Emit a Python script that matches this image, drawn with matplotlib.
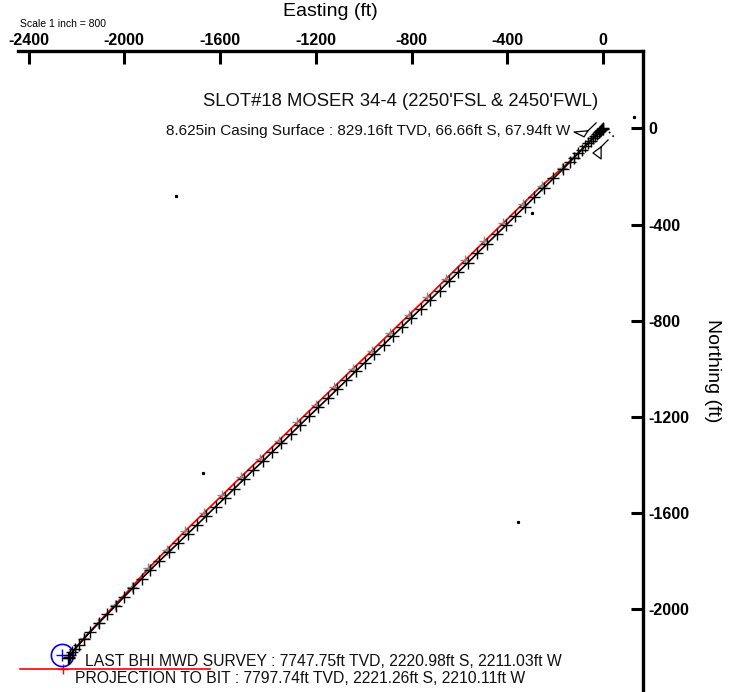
import matplotlib.pyplot as plt

plt.rcParams["font.family"] = ["Liberation Sans", "DejaVu Sans"]

# survey stations (easting, northing in ft)
survey_e = [0, -1, -3, -7, -12, -18, -25, -33, -42, -52, -63, -75, -89, -104,
            -121, -140, -167, -207, -247, -287, -326, -366, -406, -445, -485,
            -525, -564, -604, -644, -683, -723, -762, -801, -840, -878, -917,
            -956, -995, -1034, -1072, -1111, -1150, -1189, -1228, -1266, -1305,
            -1344, -1383, -1422, -1462, -1501, -1540, -1579, -1618, -1657,
            -1696, -1735, -1774, -1814, -1853, -1892, -1928, -1964, -2000,
            -2036, -2071, -2107, -2143, -2168, -2190, -2206, -2217, -2225,
            -2230, -2233, -2235]
survey_n = [0, -1, -3, -6, -11, -17, -24, -32, -41, -51, -62, -74, -88, -104,
            -121, -141, -169, -208, -247, -286, -325, -364, -403, -441, -480,
            -519, -558, -597, -636, -675, -714, -751, -788, -826, -862, -900,
            -937, -974, -1011, -1048, -1085, -1123, -1160, -1197, -1234, -1272,
            -1310, -1347, -1385, -1422, -1460, -1498, -1536, -1573, -1611,
            -1649, -1686, -1724, -1762, -1799, -1837, -1874, -1911, -1948,
            -1985, -2021, -2058, -2095, -2122, -2147, -2165, -2180, -2191,
            -2197, -2201, -2203]

# well plan
plan_e = [0, -3, -12, -25, -42, -63, -89, -121, -170, -256, -336, -416, -496,
          -575, -655, -734, -812, -889, -967, -1045, -1122, -1200, -1277,
          -1355, -1433, -1512, -1590, -1668, -1746, -1823, -1899, -1968,
          -2039, -2109, -2169, -2206, -2230]
plan_n = [0, -3, -11, -24, -41, -62, -88, -120, -165, -238, -315, -393, -470,
          -547, -625, -703, -777, -851, -926, -1000, -1074, -1149, -1223,
          -1299, -1374, -1449, -1525, -1600, -1675, -1753, -1830, -1907,
          -1982, -2056, -2121, -2165, -2197]

# casing shoe symbols
shoe1_e = [-29, -63, -121, -79, -63]
shoe1_n = [23, -10, -15, -35, -10]
shoe2_e = [21, -8, -8, -42, -8]
shoe2_n = [-48, -77, -127, -102, -77]
lead_e = [-4, 50]
lead_n = [15, -40]

target_e, target_n = -2262, -2192
bit_e, bit_n = -2256, -2248
hline_e = [-2435, -1642]
hline_n = [-2248, -2248]

dots_e = [129, -1784, -1671, -355, -297]
dots_n = [48, -281, -1434, -1638, -352]

xticks = [-2400, -2000, -1600, -1200, -800, -400, 0]
yticks = [0, -400, -800, -1200, -1600, -2000]

fig = plt.figure(figsize=(7.36, 6.92), dpi=100)
ax = fig.add_axes([18 / 736, 1 - 690 / 692, 625 / 736, 639 / 692])
ax.set_xlim(-2444, 167)
ax.set_ylim(-2336, 322)

ax.plot(plan_e, plan_n, color="red", linewidth=1.3, marker="+",
        markersize=7.5, markeredgecolor="#8a8a8a", markeredgewidth=1.0,
        zorder=2)
ax.plot(survey_e, survey_n, color="black", linewidth=1.2, marker="+",
        markersize=8, markeredgewidth=1.0, zorder=3)

ax.plot(shoe1_e, shoe1_n, color="black", linewidth=0.9)
ax.plot(shoe2_e, shoe2_n, color="black", linewidth=0.9)
ax.plot(lead_e, lead_n, color="black", linestyle=(0, (1, 2)), linewidth=1.2)

ax.plot(hline_e, hline_n, color="red", linewidth=1.2)
ax.plot([bit_e], [bit_n], marker="+", color="red", markersize=7,
        markeredgewidth=1.0)
ax.plot([target_e], [target_n], marker="o", markerfacecolor="none",
        markeredgecolor="blue", markersize=16, markeredgewidth=1.2)
ax.plot([target_e], [target_n], marker="+", color="blue", markersize=9,
        markeredgewidth=1.0)
ax.plot(dots_e, dots_n, linestyle="none", marker="s", color="black",
        markersize=1.3)

for side in ["left", "bottom"]:
    ax.spines[side].set_visible(False)
for side in ["top", "right"]:
    ax.spines[side].set_linewidth(2.4)

ax.xaxis.set_ticks_position("top")
ax.yaxis.set_ticks_position("right")
ax.set_xticks(xticks)
ax.set_yticks(yticks)
ax.set_xticklabels([str(v) for v in xticks], fontweight="bold", fontsize=11.5)
ax.set_yticklabels([str(v) for v in yticks], fontweight="bold", fontsize=11.5)
ax.tick_params(axis="x", direction="in", length=9.5, width=2.2, pad=2)
ax.tick_params(axis="y", direction="in", length=9, width=2.2, pad=4)

ax.text(-844, 114, "SLOT#18 MOSER 34-4 (2250'FSL & 2450'FWL)", fontsize=13.3,
        ha="center", va="center", color="#111111")
ax.text(-138, -10, "8.625in Casing Surface : 829.16ft TVD, 66.66ft S, 67.94ft W",
        fontsize=11, ha="right", va="center", color="#111111")
ax.text(-2164, -2216,
        "LAST BHI MWD SURVEY : 7747.75ft TVD, 2220.98ft S, 2211.03ft W",
        fontsize=11.3, ha="left", va="center", color="#111111")
ax.text(-2206, -2287,
        "PROJECTION TO BIT : 7797.74ft TVD, 2221.26ft S, 2210.11ft W",
        fontsize=11.3, ha="left", va="center", color="#111111")

fig.text(20 / 736, 1 - 24 / 692, "Scale 1 inch = 800", fontsize=7.5,
         ha="left", va="center")
fig.text(330 / 736, 1 - 11 / 692, "Easting (ft)", fontsize=14,
         ha="center", va="center")
fig.text(712 / 736, 1 - 371 / 692, "Northing (ft)", fontsize=14,
         ha="center", va="center", rotation=270)

fig.savefig("out.png", dpi=100)
